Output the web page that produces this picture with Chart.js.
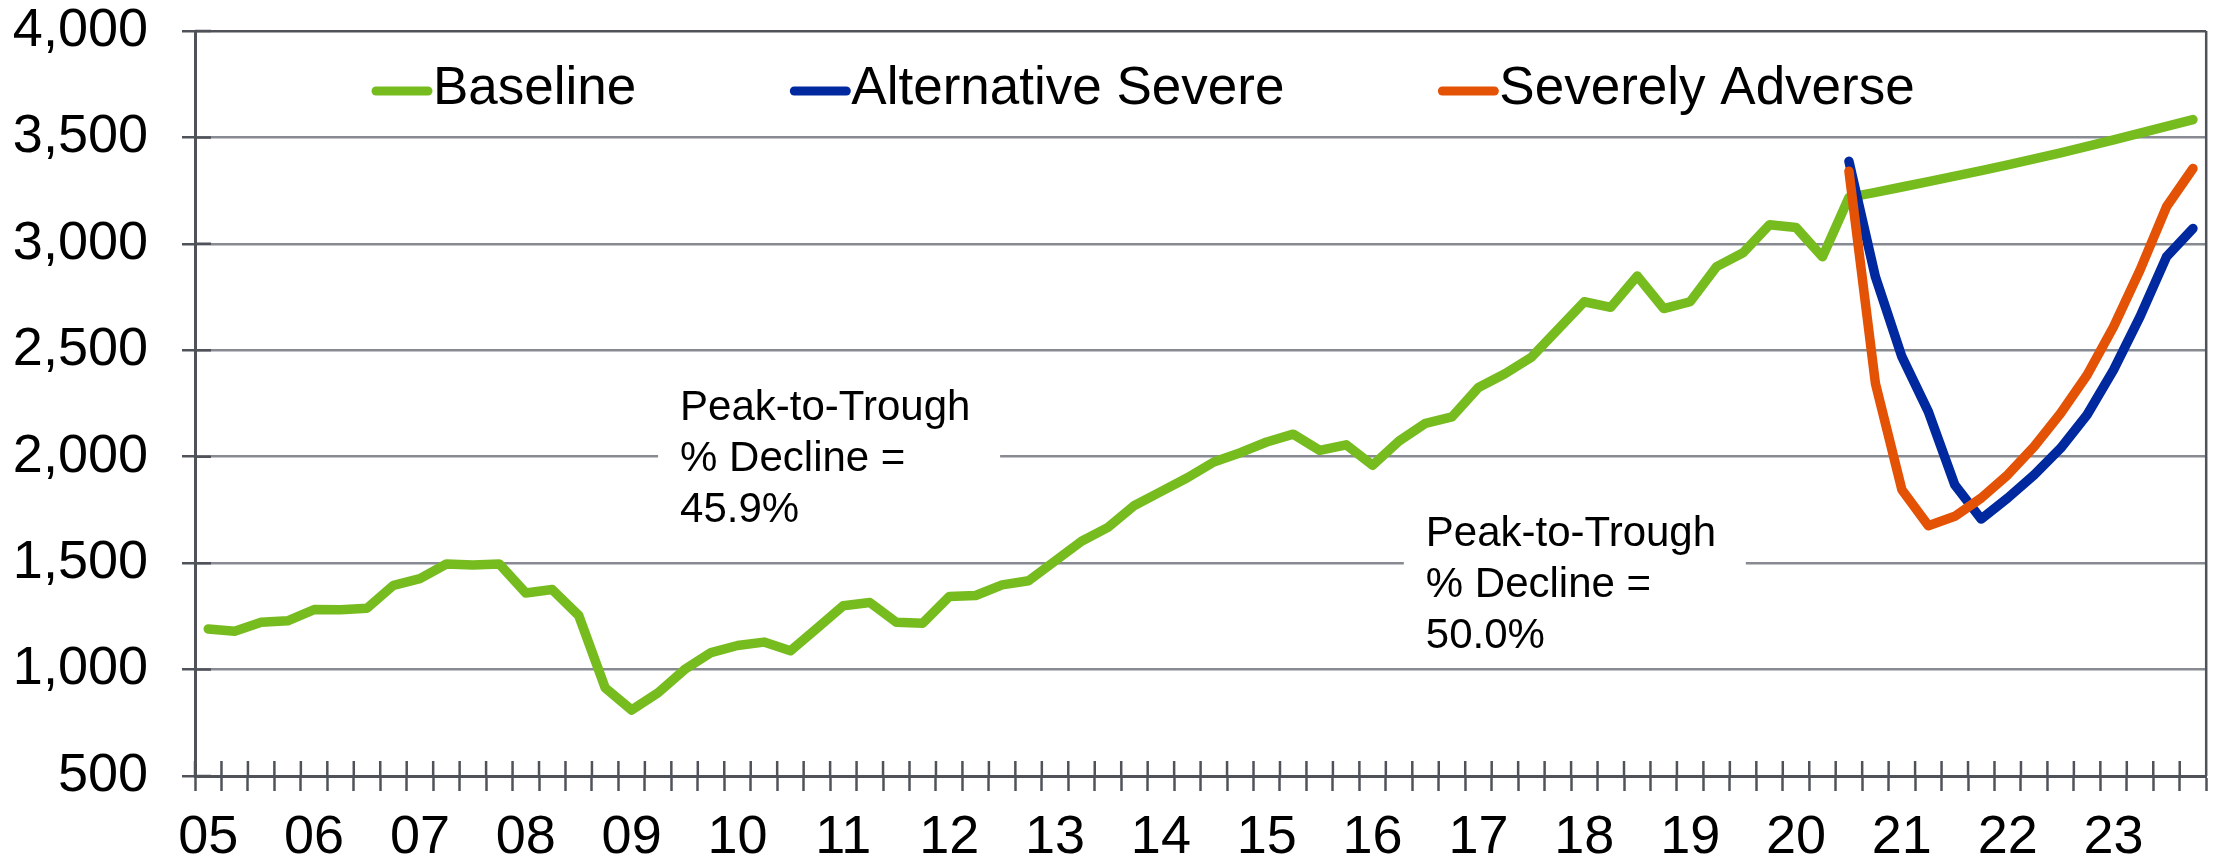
<!DOCTYPE html>
<html>
<head>
<meta charset="utf-8">
<title>Baseline vs stress scenarios</title>
<script src="https://cdn.jsdelivr.net/npm/chart.js@4.4.1/dist/chart.umd.min.js"></script>
<style>
  html, body { margin: 0; padding: 0; background: #fff; }
  canvas { display: block; }
</style>
</head>
<body>
<canvas id="chart" width="2213" height="864"></canvas>
<script>
    // data

const years = ['05', '06', '07', '08', '09', '10', '11', '12', '13', '14',
  '15', '16', '17', '18', '19', '20', '21', '22', '23'];
const quarters = ['Q1', 'Q2', 'Q3', 'Q4'];
const labels = years.flatMap(y => quarters.map(q => y + ' ' + q));

const baseline = [
  1191, 1180, 1222, 1229, 1282, 1281, 1288, 1396, 1427, 1496,
  1491, 1496, 1360, 1376, 1254, 914, 810, 891, 1000, 1080,
  1113, 1129, 1088, 1194, 1300, 1315, 1222, 1218, 1343, 1348,
  1398, 1417, 1510, 1603, 1668, 1771, 1836, 1901, 1975, 2019,
  2069, 2106, 2030, 2056, 1960, 2074, 2157, 2187, 2325, 2390,
  2467, 2598, 2728, 2702, 2849, 2696, 2728, 2893, 2958, 3090,
  3077, 2939, 3218, 3242, 3267, 3292, 3318, 3344, 3371, 3399,
  3428, 3458, 3489, 3520, 3552, 3584
];

// scenarios start in 2020 Q3 (index 62)
const noHistory = new Array(62).fill(null);
const altSevere = noHistory.concat([
  3388, 2845, 2470, 2212, 1868, 1707, 1806, 1915, 2040, 2197,
  2408, 2658, 2939, 3072
]);
const sevAdverse = noHistory.concat([
  3341, 2345, 1845, 1676, 1720, 1806, 1915, 2048, 2204, 2384,
  2611, 2877, 3174, 3354
]);

const yTicks = [500, 1000, 1500, 2000, 2500, 3000, 3500, 4000];

    // styles

const font = "'Liberation Sans', Arial, sans-serif";
const axisColor = '#4f5359';
const gridColor = '#878a90';
const green = '#77bc1f';
const blue = '#0029a0';
const orange = '#e35205';

const notes = [
  { lines: ['Peak-to-Trough', '% Decline =', '45.9%'], at: 17, value: 2228 },
  { lines: ['Peak-to-Trough', '% Decline =', '50.0%'], at: 45.18, value: 1636 }
];

    // plugins

// inner half of the cross tick marks, right frame line and the text boxes
const framePlugin = {
  id: 'framePlugin',
  beforeDatasetsDraw(chart) {
    const { ctx, chartArea: a, scales: { x, y } } = chart;
    ctx.save();
    ctx.strokeStyle = axisColor;
    ctx.lineWidth = 2.5;
    ctx.beginPath();
    ctx.moveTo(a.right, a.top);
    ctx.lineTo(a.right, a.bottom);
    for (let i = 0; i <= labels.length; i++) {
      const px = x.getPixelForValue(i - 0.5);
      ctx.moveTo(px, a.bottom);
      ctx.lineTo(px, a.bottom - 15);
    }
    y.ticks.forEach(t => {
      const py = y.getPixelForValue(t.value);
      ctx.moveTo(a.left, py);
      ctx.lineTo(a.left + 16, py);
    });
    ctx.stroke();

    // annotations with white background
    ctx.font = '42px ' + font;
    ctx.textBaseline = 'middle';
    ctx.textAlign = 'left';
    notes.forEach(n => {
      const left = x.getPixelForValue(n.at);
      const top = y.getPixelForValue(n.value);
      ctx.fillStyle = '#fff';
      ctx.fillRect(left, top - 30, 342, 51 * (n.lines.length - 1) + 60);
      ctx.fillStyle = '#000';
      n.lines.forEach((line, i) => ctx.fillText(line, left + 22, top + i * 51));
    });
    ctx.restore();
  }
};

// legend drawn inside the plot, line sample right before the text
const legendPlugin = {
  id: 'legendPlugin',
  afterDatasetsDraw(chart) {
    const { ctx, chartArea: a } = chart;
    ctx.save();
    ctx.font = '53px ' + font;
    ctx.textBaseline = 'middle';
    ctx.lineCap = 'round';
    ctx.lineWidth = 9;
    let px = a.left + 177;
    const py = a.top + 58;
    chart.data.datasets.forEach(ds => {
      ctx.strokeStyle = ds.borderColor;
      ctx.beginPath();
      ctx.moveTo(px + 4, py + 2);
      ctx.lineTo(px + 56, py + 2);
      ctx.stroke();
      ctx.fillStyle = '#000';
      ctx.fillText(ds.label, px + 61, py);
      px += 61 + ctx.measureText(ds.label).width + 154;
    });
    ctx.restore();
  }
};

    // config

const lineStyle = {
  borderWidth: 9.5,
  pointRadius: 0,
  pointHoverRadius: 0,
  borderJoinStyle: 'round',
  borderCapStyle: 'round',
  tension: 0,
  spanGaps: false
};

const chartData = {
  labels: labels,
  datasets: [
    Object.assign({ label: 'Baseline', data: baseline, borderColor: green, backgroundColor: green, order: 3 }, lineStyle),
    Object.assign({ label: 'Alternative Severe', data: altSevere, borderColor: blue, backgroundColor: blue, order: 2 }, lineStyle),
    Object.assign({ label: 'Severely Adverse', data: sevAdverse, borderColor: orange, backgroundColor: orange, order: 1 }, lineStyle)
  ]
};

const chartOptions = {
  responsive: false,
  animation: false,
  devicePixelRatio: 1,
  layout: { padding: { top: 0, right: 6, bottom: 0, left: 0 } },
  plugins: {
    legend: { display: false },
    tooltip: { enabled: false }
  },
  scales: {
    x: {
      type: 'category',
      offset: true,
      afterFit(scale) { scale.height = 88; },
      grid: {
        offset: true,
        drawOnChartArea: false,
        drawTicks: true,
        tickLength: 15,
        tickColor: axisColor,
        tickWidth: 2.5
      },
      border: { display: true, color: axisColor, width: 3 },
      ticks: {
        autoSkip: false,
        maxRotation: 0,
        padding: 20,
        color: '#000',
        font: { family: font, size: 54, lineHeight: 1.0 },
        callback: function (value) {
          const l = this.getLabelForValue(value);
          return l.endsWith('Q1') ? l.slice(0, 2) : '';
        }
      }
    },
    y: {
      min: 500,
      max: 4000,
      afterFit(scale) {
        scale.width = 195;
        scale.paddingTop = 31;
        scale.paddingBottom = 0;
      },
      afterBuildTicks(scale) { scale.ticks = yTicks.map(v => ({ value: v })); },
      grid: {
        color: ctx => (ctx.tick && ctx.tick.value === 4000 ? axisColor : gridColor),
        lineWidth: 2.5,
        tickLength: 13,
        tickColor: axisColor,
        tickWidth: 2.5
      },
      border: { display: true, color: axisColor, width: 3 },
      ticks: {
        padding: 34,
        color: '#000',
        font: { family: font, size: 54, lineHeight: 1.2 },
        callback: v => v.toLocaleString('en-US')
      }
    }
  }
};

const chart = new Chart(document.getElementById('chart'), {
  type: 'line',
  data: chartData,
  options: chartOptions,
  plugins: [framePlugin, legendPlugin]
});
</script>
</body>
</html>
